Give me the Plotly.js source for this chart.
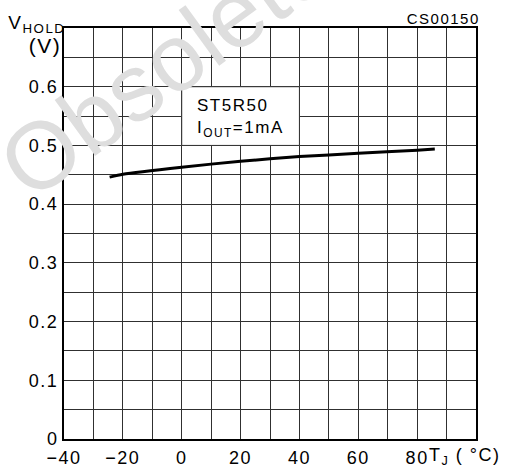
<!DOCTYPE html>
<html>
<head>
<meta charset="utf-8">
<script src="https://cdn.plot.ly/plotly-3.0.1.min.js"></script>
<style>
  html, body { margin: 0; padding: 0; background: #fff; }
  #chart { width: 512px; height: 469px; }
  .xtick text, .ytick text { letter-spacing: 1.5px; }
  g.annotation:not([data-index="0"]) text { letter-spacing: 1.5px; }
</style>
</head>
<body>
<div id="chart"></div>
<script>
// Data
const tempC = [-24.5, -20, 0, 20, 40, 60, 80, 86];
const vHold = [0.446, 0.451, 0.463, 0.473, 0.481, 0.4865, 0.492, 0.494];

// Tick positions / labels (grid every 10 °C and 0.05 V)
const xTickVals = [-40, -30, -20, -10, 0, 10, 20, 30, 40, 50, 60, 70, 80, 90, 100];
const xTickText = ['\u221240', '', '\u221220', '', '0', '', '20', '', '40', '', '60', '', '80', '', ''];
const yTickVals = [0, 0.05, 0.1, 0.15, 0.2, 0.25, 0.3, 0.35, 0.4, 0.45, 0.5, 0.55, 0.6, 0.65, 0.7];
const yTickText = ['0', '', '0.1', '', '0.2', '', '0.3', '', '0.4', '', '0.5', '', '0.6', '', ''];

const FONT = 'Liberation Sans, Arial, sans-serif';

const trace = {
  x: tempC, y: vHold, type: 'scatter', mode: 'lines',
  line: { color: '#000', width: 3, shape: 'spline', smoothing: 0.6 },
  hoverinfo: 'skip'
};

const layout = {
  width: 512, height: 469,
  margin: { l: 64, r: 36, t: 28, b: 30 },
  paper_bgcolor: '#fff', plot_bgcolor: '#fff',
  showlegend: false,
  font: { family: FONT, color: '#000', size: 18 },
  xaxis: {
    range: [-40, 100], tickmode: 'array', tickvals: xTickVals, ticktext: xTickText,
    showgrid: true, gridcolor: '#303030', gridwidth: 1, zeroline: false,
    showline: true, mirror: true, linecolor: '#000', linewidth: 2,
    ticks: '', ticklabelstandoff: 1, tickfont: { family: FONT, size: 18, color: '#000' },
    fixedrange: true
  },
  yaxis: {
    range: [0, 0.7], tickmode: 'array', tickvals: yTickVals, ticktext: yTickText,
    showgrid: true, gridcolor: '#303030', gridwidth: 1, zeroline: false,
    showline: true, mirror: true, linecolor: '#000', linewidth: 2,
    ticks: '', ticklabelstandoff: 0, tickfont: { family: FONT, size: 18, color: '#000' },
    fixedrange: true
  },
  shapes: [
    { type: 'rect', xref: 'x', yref: 'y', x0: 0, x1: 40, y0: 0.5, y1: 0.6,
      fillcolor: '#fff', line: { color: '#303030', width: 1 }, layer: 'above' }
  ],
  annotations: [
    { // watermark
      text: 'Obsolete Product(s)', xref: 'paper', yref: 'paper',
      x: 0.70, y: 1.244, xanchor: 'center', yanchor: 'middle', textangle: -36,
      showarrow: false, font: { family: FONT, size: 95, color: '#dedede' }
    },
    {
      text: 'ST5R50<br>I<sub>OUT</sub>=1mA', xref: 'x', yref: 'y',
      x: 5, y: 0.546, xanchor: 'left', yanchor: 'middle', align: 'left',
      showarrow: false, borderpad: 0, font: { family: FONT, size: 17, color: '#000' }
    },
    {
      text: 'V<sub>HOLD</sub>', xref: 'paper', yref: 'paper',
      x: (63 - 64) / 412, y: (439 - 24) / 411, xanchor: 'right', yanchor: 'middle',
      showarrow: false, borderpad: 0, font: { family: FONT, size: 19, color: '#000' }
    },
    {
      text: '(V)', xref: 'paper', yref: 'paper',
      x: (60 - 64) / 412, y: (439 - 46) / 411, xanchor: 'right', yanchor: 'middle',
      showarrow: false, borderpad: 0, font: { family: FONT, size: 21, color: '#000' }
    },
    {
      text: 'T<sub>J</sub> ( \u00B0C)', xref: 'paper', yref: 'paper',
      x: (434 - 64) / 412, y: (439 - 456) / 411, xanchor: 'left', yanchor: 'middle',
      showarrow: false, borderpad: 0, font: { family: FONT, size: 18, color: '#000' }
    },
    {
      text: 'CS00150', xref: 'paper', yref: 'paper',
      x: 1, y: (439 - 19) / 411, xanchor: 'right', yanchor: 'middle',
      showarrow: false, borderpad: 0, font: { family: FONT, size: 15, color: '#000' }
    }
  ]
};

Plotly.newPlot('chart', [trace], layout, { staticPlot: true, displayModeBar: false });
</script>
</body>
</html>
